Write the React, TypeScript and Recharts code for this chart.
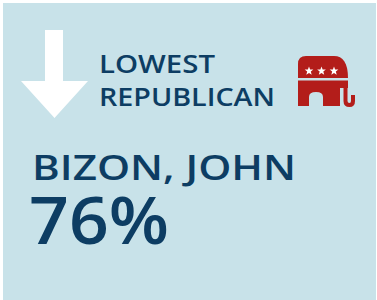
import React from "react";
import { LineChart, Customized } from "recharts";

// ---- data ----
const headingLines: string[] = ["LOWEST", "REPUBLICAN"];
const memberNames: string[] = ["BIZON, JOHN"];
const memberValues: number[] = [76];
const starsCount: number[] = [0, 1, 2];

const W = 377;
const H = 300;
const BG = "#c8e2e9";
const NAVY = "#0d3d63";
const RED = "#b31d1a";
const FONT = "'Open Sans', 'Noto Sans', sans-serif";

function starPoints(cx: number, cy: number, ro: number, ri: number): string {
  const pts: string[] = [];
  for (let i = 0; i < 10; i++) {
    const r = i % 2 === 0 ? ro : ri;
    const a = -Math.PI / 2 + (i * Math.PI) / 5;
    pts.push(`${(cx + r * Math.cos(a)).toFixed(2)},${(cy + r * Math.sin(a)).toFixed(2)}`);
  }
  return pts.join(" ");
}

const Card = () => {
  const pct = `${memberValues[0]}%`;
  return (
    <g>
      <rect x={0} y={0} width={W} height={H} fill="#ffffff" />
      <rect x={3} y={3} width={373} height={297} fill={BG} />
      {/* down arrow */}
      <polygon points="45,30 63,30 63,81 88,81 54.5,118 21,81 45,81" fill="#ffffff" />
      {/* heading */}
      <text x={99} y={73} fontFamily={FONT} fontWeight={600} fontSize={25} fill={NAVY}
        textLength={116} lengthAdjust="spacingAndGlyphs">{headingLines[0]}</text>
      <text x={99} y={106} fontFamily={FONT} fontWeight={600} fontSize={25} fill={NAVY}
        textLength={176} lengthAdjust="spacingAndGlyphs">{headingLines[1]}</text>
      {/* elephant */}
      <path d="M298,78 V64 Q298,56 306,56 H334 C343,56 348,63 348,78 Z" fill={RED} />
      <path d="M298,80.5 H348 V88 H340 V106 H323 V97 Q323,92 316,92 Q309,92 309,97 V106 H298 Z" fill={RED} />
      <path d="M345.5,84 V101 Q345.5,105 349.5,105 Q353,105 353,101 V95" fill="none" stroke={RED} strokeWidth={4} />
      {starsCount.map((i) => (
        <polygon key={i} points={starPoints(309 + i * 12.5, 71, 4.6, 1.9)} fill="#ffffff" />
      ))}
      {/* name and value */}
      <text x={32} y={180} fontFamily={FONT} fontWeight={600} fontSize={34} fill={NAVY}
        textLength={264} lengthAdjust="spacingAndGlyphs">{memberNames[0]}</text>
      <text x={29} y={244} fontFamily={FONT} fontWeight={600} fontSize={66} fill={NAVY}
        textLength={140} lengthAdjust="spacingAndGlyphs">{pct}</text>
    </g>
  );
};

export default function App() {
  const data = memberNames.map((n, i) => ({ name: n, value: memberValues[i] }));
  return (
    <div style={{ position: "absolute", left: 0, top: 0, width: W, height: H }}>
      <LineChart width={W} height={H} data={data} margin={{ top: 0, right: 0, bottom: 0, left: 0 }}>
        <Customized component={Card} />
      </LineChart>
    </div>
  );
}
